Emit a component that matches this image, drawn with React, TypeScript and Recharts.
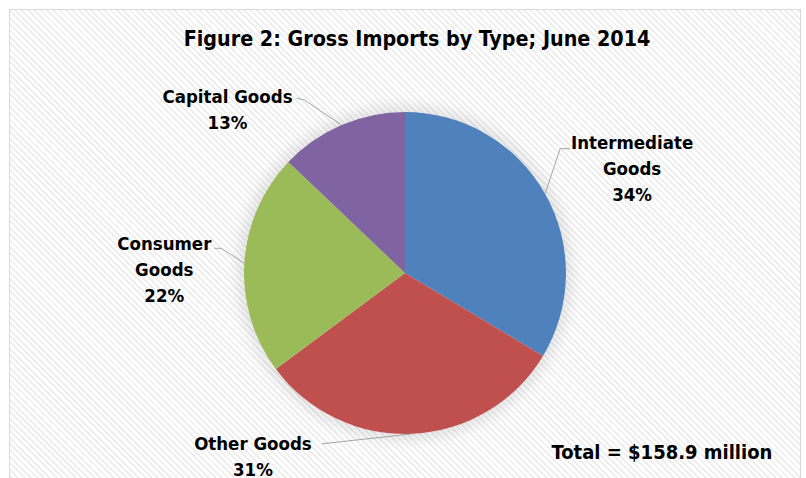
import React from 'react';
import { PieChart, Pie, Cell } from 'recharts';

// June 2014 gross imports, $ million (total 158.9)
const categories = ['Intermediate Goods', 'Other Goods', 'Consumer Goods', 'Capital Goods'];
const values = [53.4, 49.6, 35.4, 20.5];
const percentLabels = ['34%', '31%', '22%', '13%'];
const labelLines = [['Intermediate', 'Goods'], ['Other Goods'], ['Consumer', 'Goods'], ['Capital Goods']];
const COLORS = ['#4f81bd', '#c0504d', '#9bbb59', '#8064a2'];

const TITLE = 'Figure 2: Gross Imports by Type; June 2014';
const TOTAL = 'Total = $158.9 million';

const FONT = '"Liberation Sans Narrow", "DejaVu Sans Condensed", Calibri, sans-serif';

// leader/label placement relative to the slice edge point at the mid angle
const LAYOUT = [
  { elbow: [15, -45], end: [25, -45], tx: 87, ty: -51 },
  { elbow: [-91, 10], end: [-91, 10], tx: -160, ty: 10 },
  { elbow: [-23, -15], end: [-30, -15], tx: -80, ty: -20 },
  { elbow: [-37, -25], end: [-45, -27], tx: -114, ty: -29 },
];

const data = categories.map((name, i) => ({ name, value: values[i] }));

const CX = 405;
const CY = 273;
const R = 161;

const renderLabel = (props: any) => {
  const { cx, cy, midAngle, outerRadius, index } = props;
  const rad = (Math.PI / 180) * midAngle;
  const ex = cx + outerRadius * Math.cos(rad);
  const ey = cy - outerRadius * Math.sin(rad);
  const l = LAYOUT[index];
  const lines = [...labelLines[index], percentLabels[index]];
  return (
    <g key={`lbl-${index}`}>
      <polyline
        points={`${ex},${ey} ${ex + l.elbow[0]},${ey + l.elbow[1]} ${ex + l.end[0]},${ey + l.end[1]}`}
        fill="none"
        stroke="#a6a6a6"
        strokeWidth={1}
      />
      {lines.map((t, k) => (
        <text
          key={k}
          x={ex + l.tx}
          y={ey + l.ty + k * 26}
          textAnchor="middle"
          dominantBaseline="central"
          fill="#000"
          fontFamily={FONT}
          fontWeight="bold"
          fontSize={18.5}
        >
          {t}
        </text>
      ))}
    </g>
  );
};

export default function App() {
  React.useEffect(() => {
    document.body.style.margin = '0';
  }, []);

  return (
    <div style={{ position: 'relative', width: 806, height: 478, overflow: 'hidden', background: '#fff' }}>
      <div
        style={{
          position: 'absolute',
          left: 9,
          top: 9,
          width: 790,
          height: 490,
          border: '1px solid #d9d9d9',
          background: 'repeating-linear-gradient(45deg, #ffffff 0px, #ffffff 2.5px, #efefef 2.5px, #efefef 4.5px)',
        }}
      />
      <div
        style={{
          position: 'absolute',
          left: CX - R,
          top: CY - R,
          width: R * 2,
          height: R * 2,
          borderRadius: '50%',
          boxShadow: '0 0 14px 6px rgba(0,0,0,0.10)',
        }}
      />
      <div style={{ position: 'absolute', left: 0, top: 0 }}>
        <PieChart width={806} height={478} margin={{ top: 0, right: 0, bottom: 0, left: 0 }}>
          <Pie
            data={data}
            dataKey="value"
            nameKey="name"
            cx={CX}
            cy={CY}
            outerRadius={R}
            startAngle={90}
            endAngle={-270}
            stroke="none"
            label={renderLabel}
            labelLine={false}
            isAnimationActive={false}
          >
            {data.map((d, i) => (
              <Cell key={d.name} fill={COLORS[i]} />
            ))}
          </Pie>
        </PieChart>
      </div>
      <svg width={806} height={478} style={{ position: 'absolute', left: 0, top: 0, pointerEvents: 'none' }}>
        <text x={417} y={38} textAnchor="middle" dominantBaseline="central" fontFamily={FONT} fontWeight="bold" fontSize={21.3} fill="#000">
          {TITLE}
        </text>
        <text x={662} y={452} textAnchor="middle" dominantBaseline="central" fontFamily={FONT} fontWeight="bold" fontSize={20} fill="#000">
          {TOTAL}
        </text>
      </svg>
    </div>
  );
}
